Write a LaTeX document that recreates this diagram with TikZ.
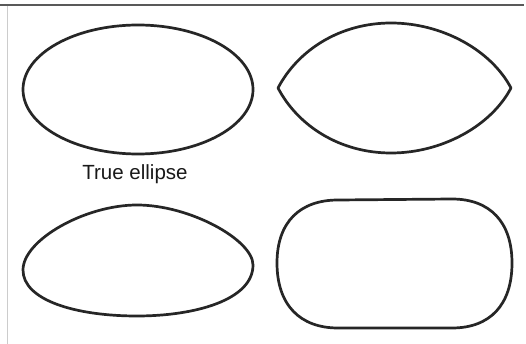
\documentclass[tikz,border=0pt]{standalone}
\usepackage{fontspec}
\setmainfont{Liberation Sans}
\begin{document}
\begin{tikzpicture}[x=1pt,y=-1pt,
  shapeline/.style={draw=black!85,line width=2.7pt,line join=round},
  lbl/.style={font=\fontsize{20.5}{22}\selectfont,text=black!90,inner sep=0pt,anchor=base}]
\useasboundingbox (0,0) rectangle (526,344);
\fill[white] (0,0) rectangle (526,344);
% frame
\draw[black!65,line width=1.3pt] (0,5) -- (524,5);
\draw[black!20,line width=1pt] (7,6) -- (7,344);
% true ellipse
\draw[shapeline] (138,89.5) ellipse [x radius=115, y radius=64.5];
\node[lbl] (t) at (135,180) {True ellipse};
% lens shape
\draw[shapeline] (278,88) .. controls (298,50) and (340,23) .. (391,23)
  .. controls (442,23) and (491,50) .. (511,88)
  .. controls (491,126) and (442,153) .. (391,153)
  .. controls (340,153) and (298,126) .. (278,88) -- cycle;
% egg shape
\draw[shapeline] (23,270) .. controls (23,240) and (85,205) .. (137,205)
  .. controls (190,205) and (253,240) .. (253,265)
  .. controls (253,300) and (195,316) .. (137,316)
  .. controls (75,316) and (23,300) .. (23,270) -- cycle;
% stadium
\draw[shapeline] (338,200) -- (452,199)
  .. controls (490,199) and (512,222) .. (512,263)
  .. controls (512,305) and (490,328) .. (452,328)
  -- (338,328)
  .. controls (300,328) and (277,305) .. (277,263)
  .. controls (277,222) and (300,200) .. (338,200) -- cycle;
\end{tikzpicture}
\end{document}
